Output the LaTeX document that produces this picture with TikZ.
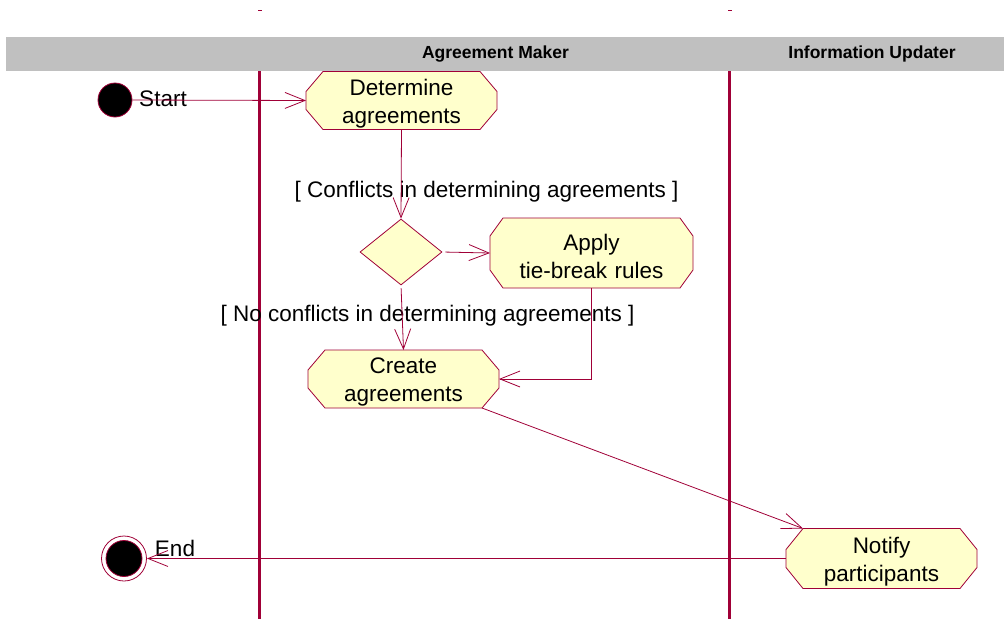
\documentclass[tikz,border=0pt]{standalone}
\usepackage{fontspec}
\setmainfont{Liberation Sans}
\usetikzlibrary{arrows.meta,shapes.geometric,calc}
\definecolor{rose}{RGB}{160,0,55}
\definecolor{actfill}{RGB}{255,255,204}
\definecolor{hdr}{RGB}{192,192,192}
\pgfdeclarelayer{bg}\pgfdeclarelayer{shp}\pgfsetlayers{bg,shp,main}
\newcommand{\actshape}[3]{%
  \begin{pgfonlayer}{shp}
  \filldraw[fill=actfill,draw=rose,line width=0.8pt]
    ([xshift=#2pt]#1.north west) -- ([xshift=-#2pt]#1.north east) --
    ([yshift=-#3pt]#1.north east) -- ([yshift=#3pt]#1.south east) --
    ([xshift=-#2pt]#1.south east) -- ([xshift=#2pt]#1.south west) --
    ([yshift=#3pt]#1.south west) -- ([yshift=-#3pt]#1.north west) -- cycle;
  \end{pgfonlayer}}
\tikzset{
  txt/.style={font=\fontsize{22.5}{28}\selectfont, text=black, inner sep=0pt},
  acttxt/.style={font=\fontsize{22.5}{28}\selectfont, text=black, inner sep=0pt, align=center},
  hdrtxt/.style={font=\bfseries\fontsize{17.5}{21}\selectfont, text=black, inner sep=0pt},
  actbox/.style n args={2}{rectangle, minimum width=#1pt, minimum height=#2pt,
    inner sep=0pt, outer sep=0pt},
  flow/.style={draw=rose, line width=0.8pt,
    -{Straight Barb[length=20pt,width=16pt,line width=0.8pt]}},
  lane/.style={draw=rose, line width=3pt},
  tick/.style={draw=rose, line width=1pt},
}
\begin{document}
\begin{tikzpicture}[x=1pt,y=-1pt]
\useasboundingbox (0,0) rectangle (1004,619);
% header and lanes
\begin{pgfonlayer}{bg}
  \fill[hdr] (6,37) rectangle (1004,71);
  \draw[lane] (259,71) -- (259,619);
  \draw[lane] (729,71) -- (729,619);
  \draw[tick] (258,10) -- (262,10);
  \draw[tick] (728,10) -- (732,10);
\end{pgfonlayer}
\node[hdrtxt] (h1) at (495.5,54) {Agreement Maker};
\node[hdrtxt] (h2) at (872,54) {Information Updater};

% start
\node[circle, fill=black, draw=rose, line width=0.8pt, minimum size=34pt, inner sep=0pt] (start) at (115,100) {};
\node[txt] (startlbl) at (163,99) {Start};

% activities
\node[actbox={191}{58}] (det) at (401.5,100.5) {};
\actshape{det}{17}{20}
\node[acttxt] (dett) at ([yshift=-3pt]det.center) {Determine\\agreements};

\node[diamond, draw=rose, fill=actfill, line width=0.8pt, minimum width=82pt, minimum height=66pt, inner sep=0pt] (dia) at (401,252) {};

\node[actbox={203}{70}] (apply) at (591.5,253) {};
\actshape{apply}{13}{18}
\node[acttxt] (applyt) at ([yshift=-3pt]apply.center) {Apply\\tie-break\,\,rules};

\node[actbox={191}{58}] (create) at (403.5,379) {};
\actshape{create}{17}{20}
\node[acttxt] (createt) at ([yshift=-3pt]create.center) {Create\\agreements};

\node[actbox={191}{60}] (notify) at (881.5,558.5) {};
\actshape{notify}{17}{21}
\node[acttxt] (notifyt) at ([yshift=-3pt]notify.center) {Notify\\participants};

% end
\node[circle, draw=rose, fill=white, line width=0.8pt, minimum size=45pt, inner sep=0pt] (endo) at (124,558.5) {};
\node[circle, draw=rose, fill=black, line width=0.8pt, minimum size=36pt, inner sep=0pt] (endi) at (124,558.5) {};
\node[txt] (endlbl) at (175,548) {End};

% guards
\node[txt] (g1) at (486.5,192) {[ Conflicts in determining agreements ]};
\node[txt] (g2) at (427.5,316) {[ No conflicts in determining agreements ]};

% flows
\draw[flow] (start.east) -- (det.west);
\draw[flow] (det.south) -- (dia.north);
\draw[flow, shorten <=3pt] (dia.east) -- (apply.west);
\draw[flow, shorten <=3pt] (dia.south) -- (create.north);
\draw[flow] (apply.south) |- (create.east);
\draw[flow] ([xshift=-17pt]create.south east) -- ([xshift=17pt]notify.north west);
\draw[flow] (notify.west) -- (endo.east);
\end{tikzpicture}
\end{document}
